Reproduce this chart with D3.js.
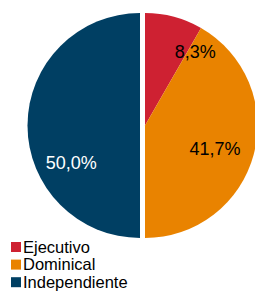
<!DOCTYPE html>
<meta charset="utf-8">
<style>
body { margin: 0; background: #fff; }
text { font-family: "Liberation Sans", Arial, sans-serif; }
</style>
<svg width="255" height="291"></svg>
<script src="https://d3js.org/d3.v7.min.js"></script>
<script>

var categories = ["Ejecutivo", "Dominical", "Independiente"];
var shares = [8.3, 41.7, 50.0];
var colors = ["#CE2132", "#E98300", "#003F63"];

var svg = d3.select("svg"),
    cx = 142.5,
    cy = 125.5,
    radius = 112.5,
    gap = 2.5;

var formatPct = function(v) { return d3.format(".1f")(v).replace(".", ",") + "%"; };

var pie = d3.pie().sort(null).value(function(d) { return d; });
var arcs = pie(shares);

var arc = d3.arc().innerRadius(0).outerRadius(radius);
var labelArc = d3.arc().innerRadius(radius * 0.7).outerRadius(radius * 0.7);

// Excel nudges labels away from the centroid
var labelNudge = [[30, 2], [-6, 3], [10, 37.5]];

function shift(d) {
  var mid = (d.startAngle + d.endAngle) / 2;
  return Math.sin(mid) > 0 ? gap : -gap;
}

var g = svg.append("g")
    .attr("transform", "translate(" + cx + "," + cy + ")");

g.selectAll(".slice")
    .data(arcs)
  .enter().append("path")
    .attr("class", "slice")
    .attr("transform", function(d) { return "translate(" + shift(d) + ",0)"; })
    .attr("d", arc)
    .attr("fill", function(d, i) { return colors[i]; });

g.selectAll(".label")
    .data(arcs)
  .enter().append("text")
    .attr("class", "label")
    .attr("transform", function(d, i) {
      var c = labelArc.centroid(d);
      return "translate(" + (c[0] + shift(d) + labelNudge[i][0]) + "," + (c[1] + labelNudge[i][1]) + ")";
    })
    .attr("text-anchor", "middle")
    .attr("dy", "0.35em")
    .attr("font-size", 18)
    .attr("fill", function(d, i) { return i === 2 ? "#fff" : "#000"; })
    .text(function(d) { return formatPct(d.data); });

var legend = svg.append("g")
    .attr("transform", "translate(11,247)");

var item = legend.selectAll(".item")
    .data(categories)
  .enter().append("g")
    .attr("class", "item")
    .attr("transform", function(d, i) { return "translate(0," + (i * 17.6) + ")"; });

item.append("rect")
    .attr("x", 0)
    .attr("y", -5)
    .attr("width", 10)
    .attr("height", 10)
    .attr("fill", function(d, i) { return colors[i]; });

item.append("text")
    .attr("x", 12)
    .attr("dy", "0.35em")
    .attr("font-size", 16.5)
    .attr("fill", "#000")
    .text(function(d) { return d; });

</script>
